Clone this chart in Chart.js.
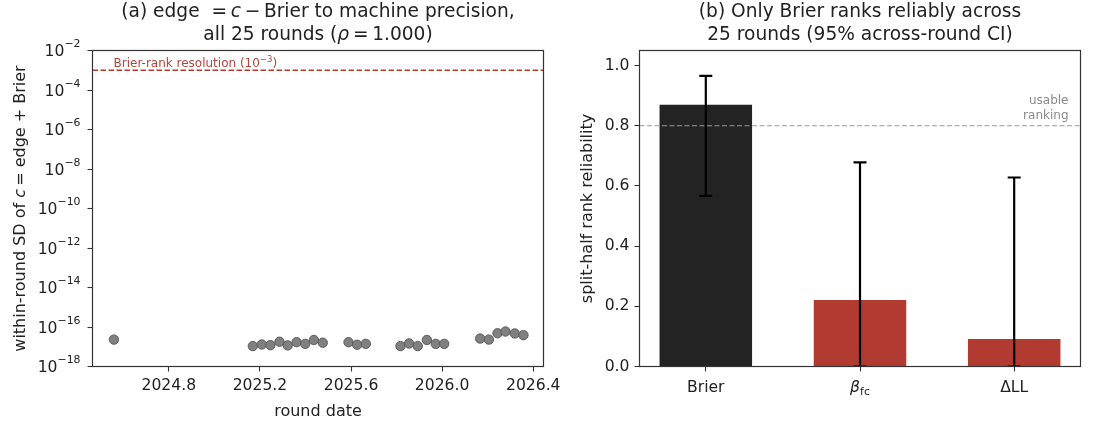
<!DOCTYPE html>
<html>
<head>
<meta charset="utf-8">
<script src="https://cdn.jsdelivr.net/npm/chart.js@4.4.1/dist/chart.umd.min.js"></script>
<style>
  html, body { margin: 0; padding: 0; background: #fff; }
  #wrap { position: relative; width: 1094px; height: 423px; overflow: hidden; background: #fff; }
  canvas { position: absolute; top: 0; }
  #cL { left: 0; }
  #cR { left: 547px; }
</style>
</head>
<body>
<div id="wrap">
  <canvas id="cL" width="600" height="423"></canvas>
  <canvas id="cR" width="547" height="423"></canvas>
</div>
<script>
// ---------------- data: panel (a) ----------------
const roundDates = [2024.559, 2025.169, 2025.208, 2025.246, 2025.286, 2025.322, 2025.361, 2025.399, 2025.437, 2025.476,
                    2025.589, 2025.627, 2025.665, 2025.817, 2025.855, 2025.893, 2025.933, 2025.972, 2026.009,
                    2026.167, 2026.205, 2026.243, 2026.278, 2026.319, 2026.357];
const withinRoundSD = [2.3e-17, 1.08e-17, 1.3e-17, 1.2e-17, 1.8e-17, 1.17e-17, 1.7e-17, 1.4e-17, 2.2e-17, 1.6e-17,
                       1.7e-17, 1.26e-17, 1.4e-17, 1.08e-17, 1.47e-17, 1.08e-17, 2.2e-17, 1.4e-17, 1.4e-17,
                       2.6e-17, 2.3e-17, 4.8e-17, 5.9e-17, 4.7e-17, 3.85e-17];
const dateTicks = [2024.8, 2025.2, 2025.6, 2026.0, 2026.4];
const sdTickExponents = [-18, -16, -14, -12, -10, -8, -6, -4, -2];
const brierResolution = 1e-3;
const dateRange = [2024.465, 2026.445];
const sdRange = [1e-18, 1e-2];

// ---------------- data: panel (b) ----------------
const metricNames = ['Brier', 'β_fc', 'ΔLL'];
const metricIndex = [0, 1, 2];
const reliability = [0.870, 0.221, 0.091];
const ciLow = [0.567, 0.0, 0.0];
const ciHigh = [0.966, 0.678, 0.628];
const usableThreshold = 0.8;
const reliabilityTicks = [0.0, 0.2, 0.4, 0.6, 0.8, 1.0];
const metricRange = [-0.43, 2.43];
const reliabilityRange = [0, 1.05];
const barColors = ['#232323', '#b13b30', '#b13b30'];

// ---------------- helpers ----------------
const FAM = '"DejaVu Sans", Verdana, sans-serif';
const F = (size, italic) => (italic ? 'italic ' : '') + size + 'px ' + FAM;
const TH = '\u2009';

function rich(ctx, segs, x, y, align, color) {
  let w = 0;
  const widths = segs.map(s => { ctx.font = s[1]; const m = ctx.measureText(s[0]).width; w += m; return m; });
  let cx = align === 'center' ? x - w / 2 : (align === 'right' ? x - w : x);
  ctx.textAlign = 'left';
  ctx.textBaseline = 'alphabetic';
  ctx.fillStyle = color || '#222';
  segs.forEach((s, i) => { ctx.font = s[1]; ctx.fillText(s[0], cx, y + (s[2] || 0)); cx += widths[i]; });
}

function spines(chart) {
  const a = chart.chartArea, ctx = chart.ctx;
  ctx.save();
  ctx.strokeStyle = '#333';
  ctx.lineWidth = 1.2;
  ctx.strokeRect(a.left, a.top, a.right - a.left, a.bottom - a.top);
  ctx.restore();
}

function fixX(s) { s.height = 423 - 366.5; s.paddingLeft = 0; s.paddingRight = 0; }
function fixY(s) { s.width = 92.5; s.paddingTop = 0; s.paddingBottom = 0; }

const TICK = 15.6, SUP = 10.9, LAB = 16, TIT = 18.6, ANN = 12;

// ---------------- panel (a) ----------------
const plotA = {
  id: 'plotA',
  afterDraw(chart) {
    const ctx = chart.ctx, a = chart.chartArea, ys = chart.scales.y;
    spines(chart);
    ctx.save();
    sdTickExponents.forEach(e => {
      const py = ys.getPixelForValue(Math.pow(10, e));
      rich(ctx, [['10', F(TICK)], ['\u2212' + Math.abs(e), F(SUP), -9]], a.left - 12, py + 5.7, 'right', '#222');
    });
    const cx = (a.left + a.right) / 2;
    rich(ctx, [['(a) edge  ', F(TIT)], ['=' + TH, F(TIT)], ['c', F(TIT, true)], [TH + '\u2212' + TH, F(TIT)], ['Brier to machine precision,', F(TIT)]], cx, 17, 'center');
    rich(ctx, [['all 25 rounds (', F(TIT)], ['\u03C1', F(TIT, true)], [TH + '=' + TH + '1.000)', F(TIT)]], cx, 39.7, 'center');
    rich(ctx, [['round date', F(LAB)]], cx, 416, 'center');
    ctx.translate(25, (a.top + a.bottom) / 2);
    ctx.rotate(-Math.PI / 2);
    rich(ctx, [['within-round SD of ', F(LAB)], ['c', F(LAB, true)], [TH + '= edge + Brier', F(LAB)]], 0, 0, 'center');
    ctx.restore();
    ctx.save();
    rich(ctx, [['Brier-rank resolution (10', F(ANN)], ['\u22123', F(8.5), -4.8], [')', F(ANN)]], a.left + 21, 66.5, 'left', '#b5443a');
    ctx.restore();
  }
};

new Chart(document.getElementById('cL'), {
  type: 'scatter',
  data: {
    datasets: [
      {
        data: roundDates.map((d, i) => ({ x: d, y: withinRoundSD[i] })),
        pointRadius: 4.7,
        pointBackgroundColor: '#808080',
        pointBorderColor: '#555555',
        pointBorderWidth: 0.9,
        order: 1
      },
      {
        type: 'line',
        data: [{ x: dateRange[0], y: brierResolution }, { x: dateRange[1], y: brierResolution }],
        borderColor: '#b5382c',
        borderWidth: 1.3,
        borderDash: [5.5, 2.5],
        pointRadius: 0,
        order: 2
      }
    ]
  },
  options: {
    responsive: false,
    animation: false,
    devicePixelRatio: 1,
    layout: { padding: { top: 50.5, right: 600 - 543.5, left: 0, bottom: 0 } },
    plugins: { legend: { display: false }, tooltip: { enabled: false } },
    scales: {
      x: {
        type: 'linear', min: dateRange[0], max: dateRange[1],
        afterBuildTicks: s => { s.ticks = dateTicks.map(v => ({ value: v })); },
        afterFit: fixX,
        ticks: { callback: v => Number(v).toFixed(1), font: { family: FAM, size: TICK }, color: '#222', padding: 5, maxRotation: 0, autoSkip: false },
        grid: { drawOnChartArea: false, drawTicks: true, tickLength: 5, tickColor: '#333', tickWidth: 1.1 },
        border: { display: false }
      },
      y: {
        type: 'logarithmic', min: sdRange[0], max: sdRange[1],
        afterBuildTicks: s => { s.ticks = sdTickExponents.map(e => ({ value: Math.pow(10, e) })); },
        afterFit: fixY,
        ticks: { callback: () => '', autoSkip: false },
        grid: { drawOnChartArea: false, drawTicks: true, tickLength: 5, tickColor: '#333', tickWidth: 1.1 },
        border: { display: false }
      }
    }
  },
  plugins: [plotA]
});

// ---------------- panel (b) ----------------
const plotB = {
  id: 'plotB',
  afterDatasetsDraw(chart) {
    const ctx = chart.ctx, a = chart.chartArea, xs = chart.scales.x, ys = chart.scales.y;
    ctx.save();
    ctx.beginPath();
    ctx.rect(a.left, a.top, a.right - a.left, a.bottom - a.top);
    ctx.clip();
    ctx.strokeStyle = '#000';
    ctx.lineWidth = 2.2;
    metricIndex.forEach((m, i) => {
      const px = xs.getPixelForValue(m);
      const y1 = ys.getPixelForValue(ciLow[i]);
      const y2 = ys.getPixelForValue(ciHigh[i]);
      ctx.beginPath();
      ctx.moveTo(px, y1); ctx.lineTo(px, y2);
      ctx.moveTo(px - 6.5, y1); ctx.lineTo(px + 6.5, y1);
      ctx.moveTo(px - 6.5, y2); ctx.lineTo(px + 6.5, y2);
      ctx.stroke();
    });
    ctx.restore();
  },
  afterDraw(chart) {
    const ctx = chart.ctx, a = chart.chartArea, xs = chart.scales.x, ys = chart.scales.y;
    spines(chart);
    ctx.save();
    const cx = (a.left + a.right) / 2;
    rich(ctx, [['(b) Only Brier ranks reliably across', F(TIT)]], cx, 17, 'center');
    rich(ctx, [['25 rounds (95% across-round CI)', F(TIT)]], cx, 39.7, 'center');
    const base = 391.7;
    rich(ctx, [[metricNames[0], F(TICK)]], xs.getPixelForValue(metricIndex[0]), base, 'center');
    rich(ctx, [['\u03B2', F(TICK, true)], ['fc', F(SUP), 3]], xs.getPixelForValue(metricIndex[1]), base, 'center');
    rich(ctx, [[metricNames[2], F(TICK)]], xs.getPixelForValue(metricIndex[2]), base, 'center');
    const ty = ys.getPixelForValue(usableThreshold);
    rich(ctx, [['usable', F(ANN)]], a.right - 12, ty - 21.5, 'right', '#8a8a8a');
    rich(ctx, [['ranking', F(ANN)]], a.right - 12, ty - 7, 'right', '#8a8a8a');
    ctx.restore();
    ctx.save();
    ctx.translate(45, (a.top + a.bottom) / 2);
    ctx.rotate(-Math.PI / 2);
    rich(ctx, [['split-half rank reliability', F(LAB)]], 0, 0, 'center');
    ctx.restore();
  }
};

new Chart(document.getElementById('cR'), {
  type: 'bar',
  data: {
    datasets: [
      {
        type: 'bar',
        data: metricIndex.map((m, i) => ({ x: m, y: reliability[i] })),
        backgroundColor: barColors,
        borderWidth: 0,
        barPercentage: 0.6,
        categoryPercentage: 1.0,
        order: 2
      },
      {
        type: 'line',
        data: [{ x: metricRange[0], y: usableThreshold }, { x: metricRange[1], y: usableThreshold }],
        borderColor: '#9a9a9a',
        borderWidth: 1.2,
        borderDash: [5, 2.5],
        pointRadius: 0,
        order: 1
      }
    ]
  },
  options: {
    responsive: false,
    animation: false,
    devicePixelRatio: 1,
    layout: { padding: { top: 50.5, right: 13.5, left: 0, bottom: 0 } },
    plugins: { legend: { display: false }, tooltip: { enabled: false } },
    scales: {
      x: {
        type: 'linear', min: metricRange[0], max: metricRange[1], offset: false,
        afterBuildTicks: s => { s.ticks = metricIndex.map(v => ({ value: v })); },
        afterFit: fixX,
        ticks: { callback: () => '', autoSkip: false },
        grid: { drawOnChartArea: false, drawTicks: true, tickLength: 5, tickColor: '#333', tickWidth: 1.1, offset: false },
        border: { display: false }
      },
      y: {
        type: 'linear', min: reliabilityRange[0], max: reliabilityRange[1],
        afterBuildTicks: s => { s.ticks = reliabilityTicks.map(v => ({ value: v })); },
        afterFit: fixY,
        ticks: { callback: v => Number(v).toFixed(1), font: { family: FAM, size: TICK }, color: '#222', padding: 5, autoSkip: false },
        grid: { drawOnChartArea: false, drawTicks: true, tickLength: 5, tickColor: '#333', tickWidth: 1.1 },
        border: { display: false }
      }
    }
  },
  plugins: [plotB]
});
</script>
</body>
</html>
